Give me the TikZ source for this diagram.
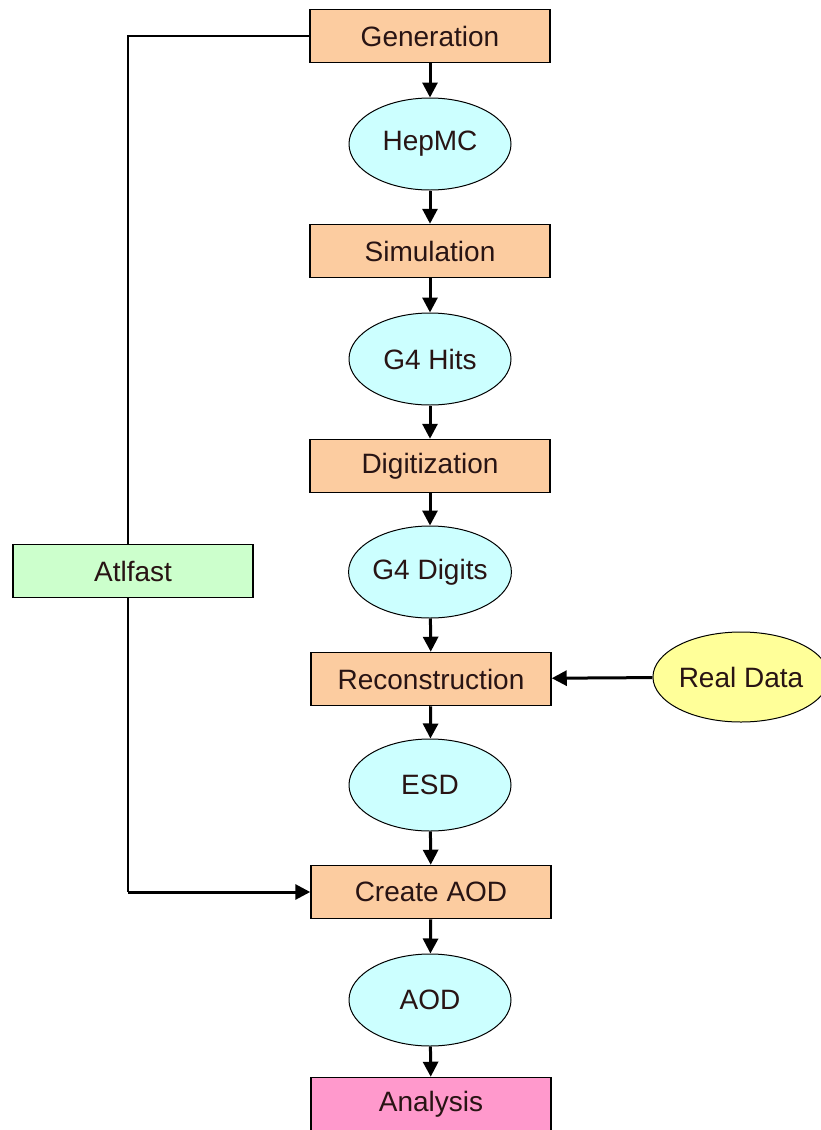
\documentclass[tikz,border=0pt]{standalone}
\usepackage{fontspec}
\setmainfont{Liberation Sans}
\usepackage{tikz}
\usetikzlibrary{arrows.meta, shapes.geometric}
\definecolor{stepFill}{RGB}{252, 204, 160}
\definecolor{dataFill}{RGB}{204, 255, 255}
\definecolor{fastFill}{RGB}{204, 255, 204}
\definecolor{realFill}{RGB}{255, 255, 153}
\definecolor{anaFill}{RGB}{255, 153, 204}
\definecolor{inkText}{RGB}{40, 20, 20}

\begin{document}
\begin{tikzpicture}[x=1pt, y=-1pt, font=\fontsize{28}{30}\selectfont,
  stepbox/.style={draw, line width=1.5pt, rectangle, fill=stepFill,
    text=inkText, minimum width=240pt, minimum height=53pt, inner sep=0pt},
  datablob/.style={draw, line width=1pt, ellipse, fill=dataFill,
    text=inkText, minimum width=162pt, minimum height=92pt, inner sep=0pt},
  flow/.style={line width=3pt, -{Triangle[length=15pt, width=15pt]}},
  thinline/.style={line width=1.4pt}]
  \useasboundingbox (0,0) rectangle (821,1130);

  % main chain
  \node[stepbox] (gen) at (430, 36) {Generation};
  \node[datablob] (hepmc) at (430, 144) {HepMC};
  \node[stepbox] (sim) at (430, 251) {Simulation};
  \node[datablob] (hits) at (430, 359) {G4 Hits};
  \node[stepbox] (digi) at (430, 466) {Digitization};
  \node[datablob] (digits) at (430, 572) {G4 Digits};
  \node[stepbox] (reco) at (431, 679) {Reconstruction};
  \node[datablob] (esd) at (430, 785) {ESD};
  \node[stepbox] (caod) at (431, 892) {Create AOD};
  \node[datablob] (aod) at (430, 1000) {AOD};
  \node[stepbox, fill=anaFill] (ana) at (431, 1104) {Analysis};

  % side inputs
  \node[stepbox, fill=fastFill] (fast) at (133, 571) {Atlfast};
  \node[datablob, fill=realFill, minimum width=158pt, minimum height=90pt]
    (real) at (741, 677) {Real Data};

  \foreach \a/\b in {gen/hepmc, hepmc/sim, sim/hits, hits/digi, digi/digits,
      digits/reco, reco/esd, esd/caod, caod/aod, aod/ana}
    \draw[flow] (\a) -- (\b);

  \draw[flow] (real) -- (reco);
  \coordinate (bend) at (128, 892);
  \draw[thinline] (fast.north -| bend) |- (gen.west);
  \draw[thinline] (fast.south -| bend) -- (bend);
  \draw[flow] (bend) -- (caod);
\end{tikzpicture}
\end{document}
